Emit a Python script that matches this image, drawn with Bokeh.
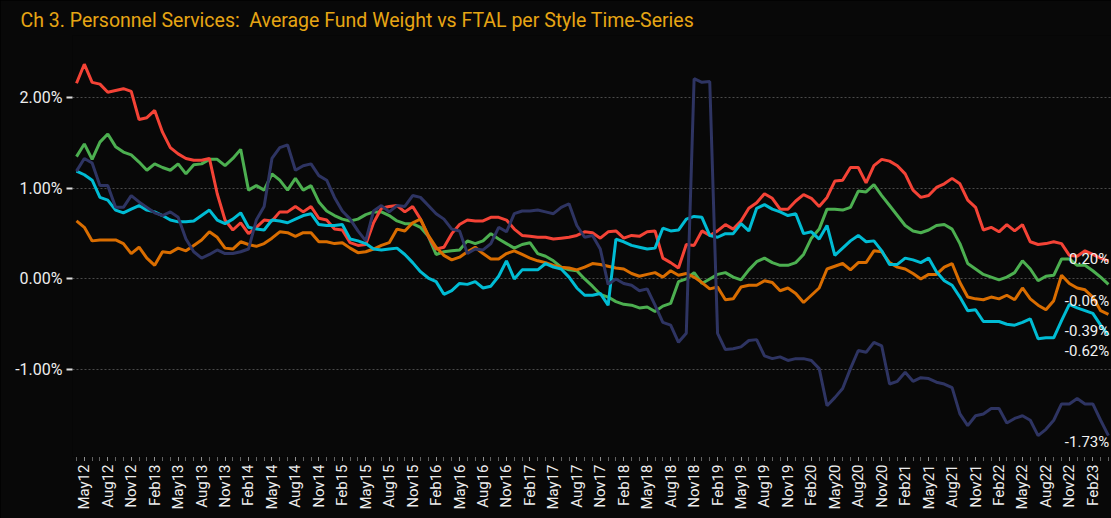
import math
from bokeh.plotting import figure
from bokeh.models import Range1d, FixedTicker, PrintfTickFormatter, ColumnDataSource
from bokeh.embed import file_html
from bokeh.resources import INLINE

# ---------------- data ----------------
tick_labels = ["May12", "Aug12", "Nov12", "Feb13", "May13", "Aug13", "Nov13", "Feb14",
               "May14", "Aug14", "Nov14", "Feb15", "May15", "Aug15", "Nov15", "Feb16",
               "May16", "Aug16", "Nov16", "Feb17", "May17", "Aug17", "Nov17", "Feb18",
               "May18", "Aug18", "Nov18", "Feb19", "May19", "Aug19", "Nov19", "Feb20",
               "May20", "Aug20", "Nov20", "Feb21", "May21", "Aug21", "Nov21", "Feb22",
               "May22", "Aug22", "Nov22", "Feb23"]

red = [2.16, 2.37, 2.17, 2.15, 2.06, 2.08, 2.10, 2.07, 1.76, 1.78,
       1.86, 1.62, 1.45, 1.38, 1.33, 1.31, 1.31, 1.33, 0.94, 0.65,
       0.54, 0.62, 0.50, 0.57, 0.65, 0.64, 0.74, 0.74, 0.80, 0.74,
       0.80, 0.67, 0.65, 0.55, 0.54, 0.40, 0.37, 0.38, 0.62, 0.78,
       0.80, 0.81, 0.74, 0.80, 0.66, 0.47, 0.33, 0.35, 0.50, 0.60,
       0.65, 0.64, 0.64, 0.68, 0.68, 0.65, 0.55, 0.48, 0.47, 0.46,
       0.46, 0.44, 0.45, 0.46, 0.48, 0.52, 0.51, 0.45, 0.52, 0.53,
       0.45, 0.48, 0.47, 0.52, 0.53, 0.23, 0.18, 0.12, 0.38, 0.37,
       0.53, 0.48, 0.53, 0.60, 0.55, 0.64, 0.78, 0.84, 0.94, 0.89,
       0.77, 0.77, 0.86, 0.93, 0.89, 0.80, 0.90, 1.08, 1.09, 1.23,
       1.23, 1.06, 1.25, 1.32, 1.30, 1.25, 1.16, 0.98, 0.90, 0.92,
       1.01, 1.05, 1.11, 1.05, 0.87, 0.79, 0.54, 0.57, 0.52, 0.60,
       0.53, 0.60, 0.41, 0.38, 0.39, 0.41, 0.39, 0.26, 0.25, 0.31,
       0.27, 0.23, 0.20]

green = [1.35, 1.49, 1.32, 1.51, 1.60, 1.46, 1.40, 1.37, 1.29, 1.20,
         1.27, 1.23, 1.20, 1.27, 1.16, 1.26, 1.27, 1.32, 1.32, 1.25,
         1.33, 1.43, 0.98, 1.03, 0.98, 1.16, 1.09, 0.98, 1.11, 0.98,
         1.03, 0.85, 0.75, 0.70, 0.66, 0.64, 0.66, 0.71, 0.74, 0.74,
         0.70, 0.64, 0.61, 0.61, 0.57, 0.47, 0.27, 0.30, 0.31, 0.32,
         0.42, 0.39, 0.42, 0.50, 0.44, 0.39, 0.34, 0.38, 0.40, 0.28,
         0.25, 0.20, 0.13, 0.10, 0.09, 0.00, -0.08, -0.17, -0.20, -0.25,
         -0.28, -0.29, -0.32, -0.31, -0.36, -0.30, -0.27, -0.03, 0.00, 0.07,
         -0.05, 0.00, 0.05, 0.07, 0.02, -0.01, 0.10, 0.19, 0.23, 0.18,
         0.15, 0.15, 0.18, 0.27, 0.45, 0.55, 0.77, 0.77, 0.76, 0.79,
         0.97, 0.96, 1.04, 0.92, 0.81, 0.70, 0.59, 0.53, 0.51, 0.54,
         0.59, 0.60, 0.55, 0.39, 0.17, 0.11, 0.05, 0.02, -0.01, 0.02,
         0.07, 0.20, 0.11, -0.02, 0.03, 0.04, 0.22, 0.22, 0.15, 0.15,
         0.09, 0.02, -0.06]

orange = [0.64, 0.57, 0.42, 0.43, 0.43, 0.43, 0.39, 0.28, 0.35, 0.23,
          0.15, 0.30, 0.29, 0.34, 0.31, 0.37, 0.43, 0.52, 0.46, 0.34,
          0.33, 0.41, 0.38, 0.36, 0.39, 0.45, 0.52, 0.51, 0.47, 0.51,
          0.51, 0.41, 0.41, 0.39, 0.40, 0.34, 0.29, 0.30, 0.33, 0.37,
          0.40, 0.55, 0.53, 0.62, 0.66, 0.48, 0.35, 0.26, 0.21, 0.24,
          0.30, 0.35, 0.28, 0.22, 0.22, 0.28, 0.31, 0.27, 0.23, 0.20,
          0.18, 0.15, 0.13, 0.12, 0.10, 0.13, 0.17, 0.16, 0.14, 0.12,
          0.11, 0.06, 0.03, 0.05, 0.07, 0.02, 0.09, 0.04, 0.06, 0.02,
          -0.04, -0.11, -0.09, -0.23, -0.22, -0.09, -0.07, -0.07, -0.02, -0.04,
          -0.13, -0.10, -0.16, -0.26, -0.18, -0.10, 0.11, 0.14, 0.17, 0.10,
          0.18, 0.18, 0.31, 0.30, 0.18, 0.13, 0.11, 0.06, 0.00, 0.05,
          0.05, 0.13, 0.17, -0.04, -0.20, -0.22, -0.23, -0.20, -0.22, -0.18,
          -0.23, -0.10, -0.22, -0.29, -0.34, -0.24, 0.04, -0.05, -0.10, -0.12,
          -0.20, -0.35, -0.39]

cyan = [1.19, 1.15, 1.09, 0.90, 0.87, 0.76, 0.73, 0.77, 0.81, 0.76,
        0.74, 0.70, 0.65, 0.63, 0.63, 0.64, 0.70, 0.76, 0.65, 0.61,
        0.66, 0.73, 0.57, 0.55, 0.54, 0.65, 0.64, 0.62, 0.66, 0.70,
        0.72, 0.60, 0.59, 0.59, 0.60, 0.44, 0.42, 0.39, 0.33, 0.32,
        0.33, 0.34, 0.27, 0.18, 0.08, 0.01, -0.03, -0.17, -0.13, -0.05,
        -0.06, -0.03, -0.10, -0.08, 0.03, 0.20, 0.00, 0.10, 0.10, 0.10,
        0.17, 0.13, 0.11, 0.02, -0.10, -0.18, -0.18, -0.16, -0.29, 0.44,
        0.41, 0.37, 0.35, 0.33, 0.34, 0.56, 0.53, 0.54, 0.66, 0.69,
        0.68, 0.48, 0.46, 0.50, 0.50, 0.61, 0.53, 0.78, 0.82, 0.77,
        0.74, 0.70, 0.72, 0.50, 0.52, 0.44, 0.59, 0.26, 0.34, 0.42,
        0.48, 0.41, 0.42, 0.31, 0.16, 0.16, 0.23, 0.21, 0.18, 0.23,
        0.08, -0.02, -0.07, -0.20, -0.35, -0.34, -0.47, -0.47, -0.47, -0.50,
        -0.51, -0.48, -0.44, -0.66, -0.65, -0.65, -0.46, -0.28, -0.32, -0.35,
        -0.38, -0.51, -0.62]

navy = [1.19, 1.33, 1.28, 1.03, 1.03, 0.79, 0.79, 0.92, 0.85, 0.79,
        0.73, 0.70, 0.74, 0.68, 0.44, 0.30, 0.23, 0.27, 0.32, 0.28,
        0.28, 0.30, 0.33, 0.65, 0.80, 1.33, 1.45, 1.48, 1.20, 1.25,
        1.27, 1.14, 1.09, 0.90, 0.75, 0.66, 0.53, 0.42, 0.75, 0.81,
        0.74, 0.81, 0.80, 0.92, 0.90, 0.81, 0.72, 0.66, 0.55, 0.53,
        0.28, 0.33, 0.32, 0.39, 0.57, 0.52, 0.72, 0.75, 0.75, 0.76,
        0.74, 0.72, 0.79, 0.83, 0.59, 0.46, 0.48, 0.33, -0.06, 0.00,
        -0.05, -0.07, -0.13, -0.11, -0.29, -0.48, -0.51, -0.70, -0.60, 2.21,
        2.17, 2.18, -0.60, -0.78, -0.77, -0.75, -0.68, -0.67, -0.85, -0.88,
        -0.86, -0.90, -0.88, -0.88, -0.90, -0.99, -1.40, -1.31, -1.21, -0.99,
        -0.79, -0.81, -0.70, -0.74, -1.16, -1.13, -1.03, -1.13, -1.09, -1.10,
        -1.14, -1.16, -1.20, -1.49, -1.62, -1.51, -1.49, -1.43, -1.43, -1.59,
        -1.54, -1.51, -1.56, -1.73, -1.66, -1.56, -1.38, -1.38, -1.32, -1.38,
        -1.38, -1.56, -1.73]

# ---------------- styling ----------------
BG = "#080808"
FONT = "Roboto"
series = [(green, "#4caf50"), (red, "#f44336"), (orange, "#d96d00"),
          (cyan, "#00bcd4"), (navy, "#2e3462")]

n = len(red)
xs = list(range(n))
first_label_idx = 1
label_idx = [first_label_idx + 3 * k for k in range(len(tick_labels))]

p = figure(width=1111, height=518, output_backend="svg", toolbar_location=None,
           x_range=Range1d(-0.512, 132.39), y_range=Range1d(-1.96, 2.687),
           min_border_left=72, min_border_right=0, min_border_top=35,
           min_border_bottom=62)
p.background_fill_color = BG
p.border_fill_color = BG
p.outline_line_color = None

p.title.text = "Ch 3. Personnel Services:\u00a0 Average Fund Weight vs FTAL per Style Time-Series"
p.title.text_color = "#e6a514"
p.title.text_font = FONT
p.title.text_font_size = "19.5px"
p.title.text_font_style = "normal"
p.title.offset = -52
p.title.standoff = 8

# y axis
p.yaxis.ticker = FixedTicker(ticks=[-1, 0, 1, 2])
p.yaxis.formatter = PrintfTickFormatter(format="%.2f%%")
p.yaxis.axis_line_color = None
p.yaxis.major_tick_line_color = "#dddddd"
p.yaxis.major_tick_line_width = 2
p.yaxis.major_tick_out = 6
p.yaxis.major_tick_in = 0
p.yaxis.minor_tick_line_color = None
p.yaxis.major_label_text_color = "#eeeeee"
p.yaxis.major_label_text_font = FONT
p.yaxis.major_label_text_font_size = "16px"
p.yaxis.major_label_standoff = 4

# x axis
p.xaxis.ticker = FixedTicker(ticks=label_idx, minor_ticks=xs)
p.xaxis.major_label_overrides = {i: lab for i, lab in zip(label_idx, tick_labels)}
p.xaxis.major_label_orientation = math.pi / 2
p.xaxis.axis_line_color = None
p.xaxis.major_tick_line_color = "#bbbbbb"
p.xaxis.major_tick_line_dash = "1 1"
p.xaxis.major_tick_out = 4
p.xaxis.major_tick_in = 0
p.xaxis.minor_tick_line_color = "#bbbbbb"
p.xaxis.minor_tick_line_dash = "1 1"
p.xaxis.minor_tick_out = 4
p.xaxis.minor_tick_in = 0
p.xaxis.major_label_text_color = "#eeeeee"
p.xaxis.major_label_text_font = FONT
p.xaxis.major_label_text_font_size = "15px"
p.xaxis.major_label_standoff = 4

p.xgrid.grid_line_color = None
p.ygrid.grid_line_color = "#4a4a4a"
p.ygrid.grid_line_dash = "2 2"
p.ygrid.grid_line_width = 1

for vals, col in series:
    p.line(xs, vals, line_color=col, line_width=3)

# end-of-series value labels
end_vals = [red[-1], green[-1], orange[-1], cyan[-1], navy[-1]]
label_y = [0.225, -0.24, -0.57, -0.79, -1.80]
src = ColumnDataSource(dict(x=[132.1] * 5, y=label_y,
                            t=["%.2f%%" % v for v in end_vals]))
p.text(x="x", y="y", text="t", source=src, text_color="#f2f2f2",
       text_font_size="15px", text_align="right", text_baseline="middle",
       text_font={"value": FONT})

html = file_html(p, INLINE)
html = html.replace("<body>", '<body style="background-color:#000000;">')
open("out.html", "w").write(html)
